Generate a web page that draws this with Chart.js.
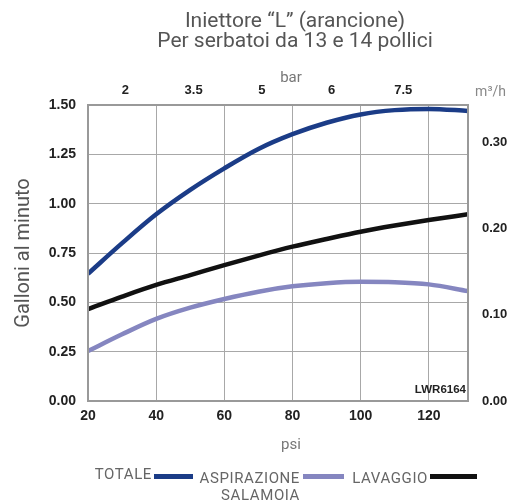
<!DOCTYPE html>
<html>
<head>
<meta charset="utf-8">
<script src="https://cdn.jsdelivr.net/npm/chart.js@4.4.1/dist/chart.umd.min.js"></script>
<style>
  html, body { margin: 0; padding: 0; background: #fff; }
  #wrap { width: 507px; height: 501px; }
</style>
</head>
<body>
<div id="wrap"><canvas id="chart" width="507" height="501"></canvas></div>
<script>
"use strict";

// valori (galloni al minuto vs psi)
const psi = [20, 30, 40, 50, 60, 70, 80, 90, 100, 110, 120, 131.5];
const totale = [0.645, 0.80, 0.946, 1.07, 1.179, 1.277, 1.352, 1.41, 1.452, 1.474, 1.48, 1.47];
const aspirazione = [0.253, 0.338, 0.416, 0.473, 0.517, 0.554, 0.581, 0.597, 0.604, 0.602, 0.591, 0.557];
const lavaggio = [0.466, 0.529, 0.588, 0.638, 0.689, 0.737, 0.782, 0.821, 0.858, 0.889, 0.917, 0.946];

const psiTicks = [20, 40, 60, 80, 100, 120];
const gpmTicks = [0, 0.25, 0.5, 0.75, 1, 1.25, 1.5];
const barLabels = ["2", "3.5", "5", "6", "7.5"];
const barAtPsi = [31, 51, 71, 91.5, 112.5];
const m3hTicks = [0, 0.1, 0.2, 0.3];

const titleLines = ["Iniettore \u201CL\u201D (arancione)", "Per serbatoi da 13 e 14 pollici"];

const GRID = "#a8a8a8";
const TICK_FONT = { family: "'Liberation Sans', Arial, sans-serif", size: 14, weight: "bold" };
const TEXT_FONT = "Roboto, 'Open Sans', sans-serif";

const toPts = (ys) => psi.map((x, i) => ({ x, y: ys[i] }));
const fixTicks = (vals) => (scale) => { scale.ticks = vals.map((v) => ({ value: v })); };

// titolo, etichette extra e legenda disegnati sul canvas
const overlay = {
  id: "overlay",
  afterDraw(chart) {
    const { ctx, chartArea: a } = chart;
    ctx.save();
    ctx.strokeStyle = "#999";
    ctx.lineWidth = 2;
    ctx.strokeRect(a.left, a.top, a.right - a.left, a.bottom - a.top);

    ctx.fillStyle = "#555";
    ctx.font = "21px " + TEXT_FONT;
    ctx.textAlign = "center";
    ctx.textBaseline = "alphabetic";
    ctx.fillText(titleLines[0], 295, 27);
    ctx.fillText(titleLines[1], 295, 47);

    ctx.fillStyle = "#777";
    ctx.font = "15px " + TEXT_FONT;
    const cx = (a.left + a.right) / 2 + 13;
    ctx.fillText("bar", cx, 82);
    ctx.fillText("psi", cx, 449);

    ctx.fillStyle = "#888";
    ctx.font = "14px " + TEXT_FONT;
    ctx.textAlign = "right";
    ctx.fillText("m\u00B3/h", 506, 96);

    ctx.fillStyle = "#222";
    ctx.font = "bold 11.5px 'Liberation Sans', Arial, sans-serif";
    ctx.fillText("LWR6164", a.right - 2, 393);

    // legenda: testo a sinistra del segmento colorato
    const items = [
      { ds: 0, textRight: 152, base: 479, x0: 154, x1: 193 },
      { ds: 1, textRight: 300, base: 483, x0: 303, x1: 344 },
      { ds: 2, textRight: 428, base: 483, x0: 430, x1: 477 },
    ];
    ctx.font = "15px " + TEXT_FONT;
    ctx.letterSpacing = "0.6px";
    items.forEach((it) => {
      const ds = chart.data.datasets[it.ds];
      const lines = [].concat(ds.label);
      ctx.fillStyle = "#666";
      lines.forEach((t, k) => ctx.fillText(t, it.textRight, it.base + k * 17));
      ctx.fillStyle = ds.borderColor;
      ctx.fillRect(it.x0, 474, it.x1 - it.x0, 5);
    });
    ctx.restore();
  },
};

new Chart(document.getElementById("chart"), {
  type: "line",
  data: {
    datasets: [
      { label: "TOTALE", data: toPts(totale), borderColor: "#1b3c87" },
      { label: ["ASPIRAZIONE", "SALAMOIA"], data: toPts(aspirazione), borderColor: "#8586c0" },
      { label: "LAVAGGIO", data: toPts(lavaggio), borderColor: "#111111" },
    ],
  },
  options: {
    responsive: false,
    animation: false,
    devicePixelRatio: 1,
    layout: { padding: { left: 0, right: 0, top: 0, bottom: 40 } },
    elements: {
      line: { borderWidth: 4.5, cubicInterpolationMode: "monotone", fill: false },
      point: { radius: 0 },
    },
    plugins: { legend: { display: false }, title: { display: false }, tooltip: { enabled: false } },
    scales: {
      x: {
        type: "linear",
        position: "bottom",
        min: 20,
        max: 131.5,
        afterBuildTicks: fixTicks(psiTicks),
        afterFit: (s) => { s.height = 60; },
        grid: { color: GRID, lineWidth: 1, drawTicks: false },
        border: { display: false },
        ticks: { color: "#222", font: TICK_FONT, padding: 7, maxRotation: 0, callback: (v) => String(v) },
      },
      x2: {
        type: "linear",
        position: "top",
        min: 20,
        max: 131.5,
        afterBuildTicks: fixTicks(barAtPsi),
        afterFit: (s) => { s.height = 105; },
        grid: { display: false, drawTicks: false },
        border: { display: false },
        ticks: {
          color: "#222",
          font: { family: TICK_FONT.family, size: 13, weight: "bold" },
          padding: 7,
          maxRotation: 0,
          autoSkip: false,
          callback: (v, i) => barLabels[i],
        },
      },
      y: {
        type: "linear",
        position: "left",
        min: 0,
        max: 1.5,
        afterBuildTicks: fixTicks(gpmTicks),
        afterFit: (s) => { s.width = 88; },
        grid: { color: GRID, lineWidth: 1, drawTicks: false },
        border: { display: false },
        ticks: { color: "#222", font: TICK_FONT, padding: 12, callback: (v) => Number(v).toFixed(2) },
        title: {
          display: true,
          text: "Galloni al minuto",
          color: "#555",
          font: { family: TEXT_FONT, size: 20 },
          padding: { top: 12, bottom: 0 },
        },
      },
      y2: {
        type: "linear",
        position: "right",
        min: 0,
        max: 0.343,
        afterBuildTicks: fixTicks(m3hTicks),
        afterFit: (s) => { s.width = 39; },
        grid: { display: false, drawTicks: false },
        border: { display: false },
        ticks: { color: "#222", font: { family: TICK_FONT.family, size: 13, weight: "bold" }, padding: 14, callback: (v) => Number(v).toFixed(2) },
      },
    },
  },
  plugins: [overlay],
});
</script>
</body>
</html>
